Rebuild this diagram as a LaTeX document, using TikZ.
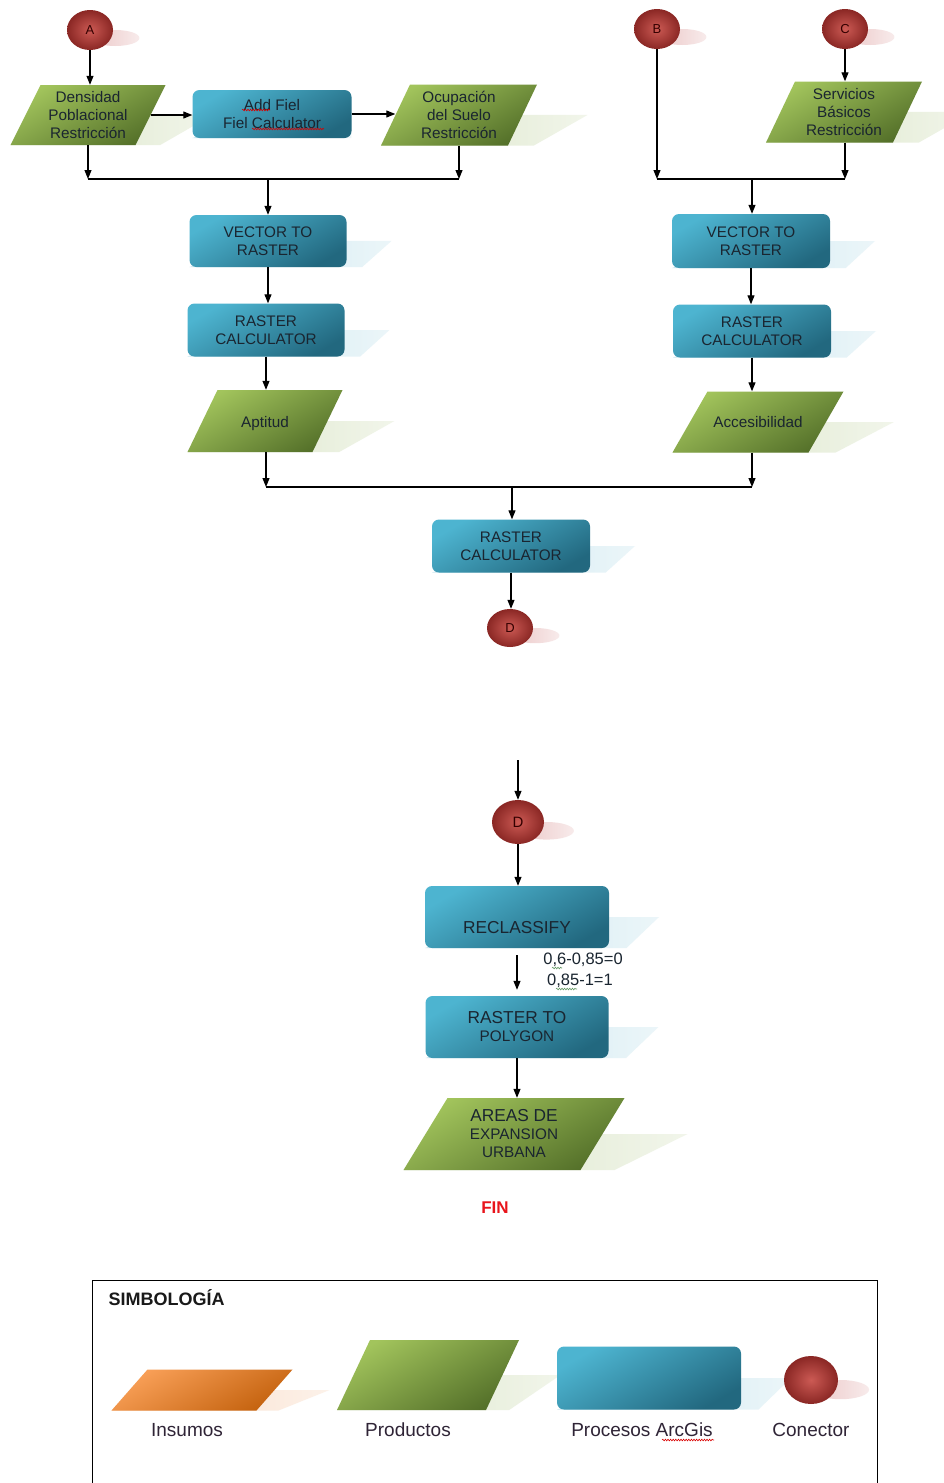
\documentclass[tikz,border=0pt]{standalone}
\usepackage{fontspec}
\setmainfont{Liberation Sans}
\usetikzlibrary{arrows.meta,shapes.geometric,fadings,decorations.pathmorphing}

\definecolor{greenlight}{HTML}{A2C45C}
\definecolor{greendark}{HTML}{55712A}
\definecolor{bluelight}{HTML}{4DB4D0}
\definecolor{bluedark}{HTML}{22687F}
\definecolor{redlight}{HTML}{CC5A54}
\definecolor{reddark}{HTML}{8A2724}
\definecolor{orangelight}{HTML}{F9A058}
\definecolor{orangedark}{HTML}{C4620E}
\definecolor{greenshade}{HTML}{DAE5C6}
\definecolor{blueshade}{HTML}{C9E6EF}
\definecolor{pinkshade}{HTML}{ECC8C8}
\definecolor{orangeshade}{HTML}{F9DAC3}
\definecolor{inktext}{HTML}{1A2530}
\definecolor{legendtext}{HTML}{2F2436}
\definecolor{finred}{HTML}{E8141B}

\tikzfading[name=fadeout right, left color=transparent!0, middle color=transparent!10, right color=transparent!65]

\newcommand{\flowfont}{\fontsize{15.3}{18}\selectfont}

% parallelogram: name, cx, cy, width at mid-height, height, skew, colour key, shadow reach, text
\newcommand{\flowpara}[9]{%
  \fill[#7 shadow, path fading=fadeout right]
    (#2, #3) -- (#2+#4/2+#8, #3) -- (#2+#4/2-#6/2+#8*0.4, #3+#5/2) -- (#2-#4/2-#6/2, #3+#5/2) -- cycle;
  \shade[#7 fill]
    (#2-#4/2-#6/2, #3+#5/2) -- (#2+#4/2-#6/2, #3+#5/2) -- (#2+#4/2+#6/2, #3-#5/2) -- (#2-#4/2+#6/2, #3-#5/2) -- cycle;
  \node[shapetext, minimum width=#4pt, minimum height=#5pt] (#1) at (#2,#3) {#9};
}

% rounded process box: name, cx, cy, width, height, shadow reach, text
\newcommand{\flowbox}[7]{%
  \fill[blueshade, path fading=fadeout right]
    (#2, #3) -- (#2+#4/2+#6, #3) -- (#2+#4/2+#6*0.35, #3+#5/2) -- (#2-#4/2, #3+#5/2) -- cycle;
  \node[process, minimum width=#4pt, minimum height=#5pt] (#1) at (#2,#3) {#7};
}

% connector ball: name, cx, cy, x radius, y radius, letter
\newcommand{\flowconn}[6]{%
  \fill[pinkshade, path fading=fadeout right]
    (#2+#4*1.1, #3+#5*0.4) ellipse [x radius=#4*1.05, y radius=#5*0.4];
  \node[connector, minimum width=#4*2pt, minimum height=#5*2pt] (#1) at (#2,#3) {#6};
}

\begin{document}
\begin{tikzpicture}[x=1pt, y=-1pt,
  green fill/.style={top color=greenlight, bottom color=greendark, shading angle=30},
  green shadow/.style={fill=greenshade},
  orange fill/.style={top color=orangelight, bottom color=orangedark, shading angle=30},
  orange shadow/.style={fill=orangeshade},
  shapetext/.style={rectangle, inner sep=0pt, align=center, text=inktext, font=\flowfont},
  process/.style={rectangle, rounded corners=7pt, top color=bluelight, bottom color=bluedark,
    shading angle=30, inner sep=0pt, align=center, text=inktext, font=\flowfont},
  connector/.style={ellipse, inner sep=0pt, inner color=redlight, outer color=reddark,
    text=black!80!red, font=\fontsize{13}{15}\selectfont},
  arr/.style={-{Triangle[length=9pt,width=7pt]}, line width=1.1pt},
  link/.style={line width=1.1pt},
  squiggle/.style={draw=red!85!black, line width=0.6pt, decorate,
    decoration={snake, amplitude=0.8pt, segment length=2.6pt}},
  legendlabel/.style={text=legendtext, font=\fontsize{19}{22}\selectfont}
]
\useasboundingbox (0,0) rectangle (944,1483);
\fill[white] (0,0) rectangle (944,1483);

% ---------- left branch ----------
\flowconn{A}{90}{30}{23}{20}{A}
\flowpara{dens}{88}{115}{125}{60}{30}{green}{62}{Densidad\\Poblacional\\Restricción}
\flowbox{add}{272}{114}{159}{48}{0}{Add Fiel\\Fiel Calculator}
\flowpara{ocup}{459}{115}{127}{61}{29}{green}{65}{Ocupación\\del Suelo\\Restricción}
\flowbox{vec1}{268}{241}{157}{52}{45}{VECTOR TO\\RASTER}
\flowbox{ras1}{266}{330}{157}{53}{45}{RASTER\\CALCULATOR}
\flowpara{apt}{265}{421}{125}{62}{30}{green}{67}{\raisebox{-6.5pt}[0pt][0pt]{Aptitud}}

% ---------- right branch ----------
\flowconn{B}{657}{29}{23}{20}{B}
\flowconn{C}{845}{29}{23}{20}{C}
\flowpara{serv}{844}{112}{127}{61}{29}{green}{65}{Servicios\\Básicos\\Restricción}
\flowbox{vec2}{751}{241}{158}{54}{45}{VECTOR TO\\RASTER}
\flowbox{ras2}{752}{331}{158}{53}{45}{RASTER\\CALCULATOR}
\flowpara{acc}{758}{422}{136}{61}{35}{green}{68}{Accesibilidad}

% ---------- merge ----------
\flowbox{ras3}{511}{546}{158}{53}{45}{RASTER\\CALCULATOR}
\flowconn{D}{510}{628}{23}{19}{D}

\coordinate (j1) at (268,179);
\coordinate (j2) at (752,179);
\coordinate (j3) at (512,487);

\draw[arr] (A.south) -- (A.south |- dens.north);
\draw[arr] (dens.east) -- (dens.east -| add.west);
\draw[arr] (add.east) -- (add.east -| ocup.west);
\draw[arr] (dens.south) -- (dens.south |- j1);
\draw[arr] (ocup.south) -- (ocup.south |- j1);
\draw[link] (dens.south |- j1) -- (ocup.south |- j1);
\draw[arr] (j1) -- (j1 |- vec1.north);
\draw[arr] (vec1.south) -- (vec1.south |- ras1.north);
\draw[arr] (ras1.south) -- (ras1.south |- apt.north);

\draw[arr] (B.south) -- (B.south |- j2);
\draw[arr] (C.south) -- (C.south |- serv.north);
\draw[arr] (C.south |- serv.south) -- (C.south |- j2);
\draw[link] (B.south |- j2) -- (C.south |- j2);
\draw[arr] (j2) -- (j2 |- vec2.north);
\draw[arr] (vec2.south) -- (vec2.south |- ras2.north);
\draw[arr] (ras2.south) -- (ras2.south |- acc.north);

\draw[arr] (ras1.south |- apt.south) -- (ras1.south |- j3);
\draw[arr] (ras2.south |- acc.south) -- (ras2.south |- j3);
\draw[link] (ras1.south |- j3) -- (ras2.south |- j3);
\draw[arr] (j3) -- (j3 |- ras3.north);
\draw[arr] (ras3.south) -- (ras3.south |- D.north);

% spelling marks
\draw[squiggle] (242,110) -- (270,110);
\draw[squiggle] (252,129) -- (324,129);

% ---------- second part ----------
\coordinate (din) at (518,760);
\flowconn{D2}{518}{822}{26}{22}{\fontsize{15}{17}\selectfont D}
\flowbox{recl}{517}{917}{184}{62}{50}{\fontsize{17.3}{20.5}\selectfont\raisebox{-16pt}[0pt][0pt]{RECLASSIFY}}
\flowbox{rtp}{517}{1027}{183}{62}{50}{\fontsize{17.3}{22}\selectfont RASTER TO\\POLYGON}
\flowpara{areas}{514}{1134}{177}{72}{44}{green}{85}{\fontsize{17.3}{20.5}\selectfont AREAS DE\\EXPANSION\\URBANA}

\draw[arr] (din) -- (din |- D2.north);
\draw[arr] (D2.south) -- (D2.south |- recl.north);
\draw[arr, shorten <=7pt, shorten >=6pt] (recl.south) -- (recl.south |- rtp.north);
\draw[arr] (rtp.south) -- (rtp.south |- areas.north);

\node[text=inktext, font=\fontsize{16.5}{19}\selectfont] (rule1) at (583,960) {0,6-0,85=0};
\node[text=inktext, font=\fontsize{16.5}{19}\selectfont] (rule2) at (580,981) {0,85-1=1};
\draw[squiggle, draw=gray!80!green] (552,968) -- (562,968);
\draw[squiggle, draw=gray!80!green] (556,989) -- (577,989);

\node[text=finred, font=\bfseries\fontsize{17}{20}\selectfont] (fin) at (495,1208) {FIN};

% ---------- legend ----------
\draw[line width=1pt] (92,1490) -- (92,1280) -- (877,1280) -- (877,1490);
\node[anchor=west, text=black!90, font=\bfseries\fontsize{18}{21}\selectfont] (ltitle) at (105,1298) {SIMBOLOGÍA};
\flowpara{lins}{202}{1390}{145}{41}{36}{orange}{55}{}
\flowpara{lprod}{428}{1375}{149}{70}{33}{green}{58}{}
\flowbox{lproc}{649}{1378}{184}{63}{50}{}
\flowconn{lcon}{811}{1380}{27}{24}{}
\node[legendlabel] (tins) at (187,1430) {Insumos};
\node[legendlabel] (tprod) at (408,1430) {Productos};
\node[legendlabel] (tproc) at (642,1430) {Procesos ArcGis};
\node[legendlabel] (tcon) at (811,1430) {Conector};
\draw[squiggle] (662,1440) -- (714,1440);
\end{tikzpicture}
\end{document}
